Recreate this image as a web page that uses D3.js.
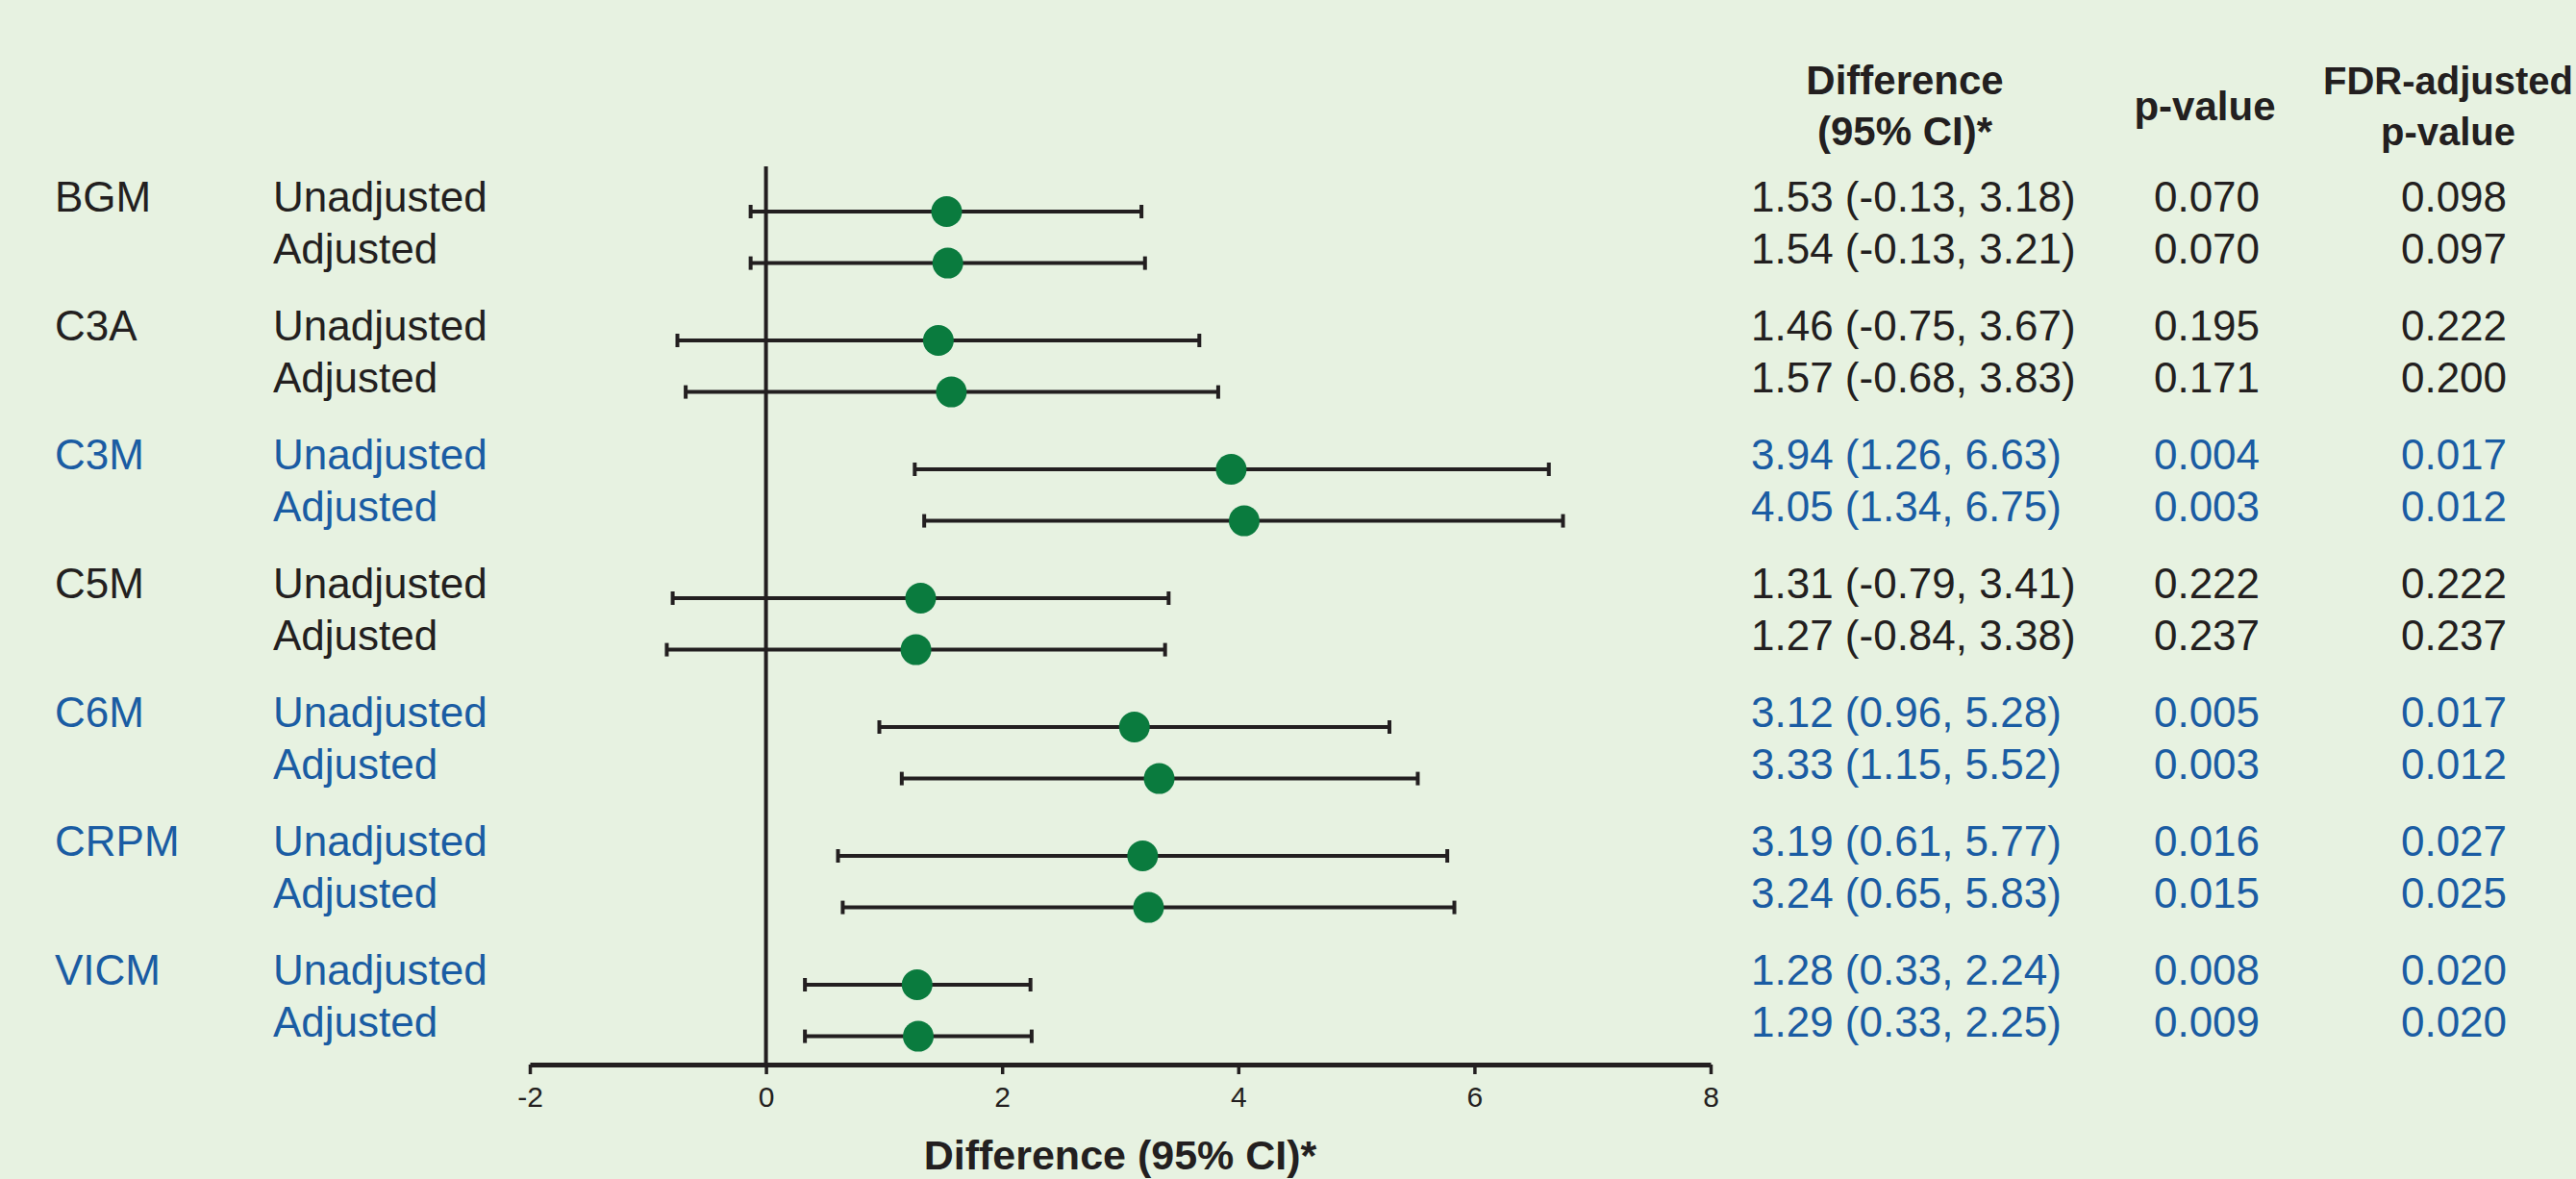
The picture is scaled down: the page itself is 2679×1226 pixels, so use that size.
<!DOCTYPE html>
<html>
<head>
<meta charset="utf-8">
<script src="https://cdn.jsdelivr.net/npm/d3@7"></script>
<style>
  html, body { margin: 0; padding: 0; background: #E7F2E1; }
  svg { display: block; }
  text { font-family: "Liberation Sans", Arial, sans-serif; }
</style>
</head>
<body>
<svg id="chart" width="2679" height="1226"></svg>
<script>
// ---- data ----
const markers = ["BGM", "C3A", "C3M", "C5M", "C6M", "CRPM", "VICM"];
const models = ["Unadjusted", "Adjusted"];
const significant = [false, false, true, false, true, true, true];
// estimates [marker][model]
const estimates = [[1.53, 1.54], [1.46, 1.57], [3.94, 4.05], [1.31, 1.27], [3.12, 3.33], [3.19, 3.24], [1.28, 1.29]];
const lowerCI   = [[-0.13, -0.13], [-0.75, -0.68], [1.26, 1.34], [-0.79, -0.84], [0.96, 1.15], [0.61, 0.65], [0.33, 0.33]];
const upperCI   = [[3.18, 3.21], [3.67, 3.83], [6.63, 6.75], [3.41, 3.38], [5.28, 5.52], [5.77, 5.83], [2.24, 2.25]];
const pValues   = [["0.070", "0.070"], ["0.195", "0.171"], ["0.004", "0.003"], ["0.222", "0.237"], ["0.005", "0.003"], ["0.016", "0.015"], ["0.008", "0.009"]];
const fdrValues = [["0.098", "0.097"], ["0.222", "0.200"], ["0.017", "0.012"], ["0.222", "0.237"], ["0.017", "0.012"], ["0.027", "0.025"], ["0.020", "0.020"]];
const xTicks = [-2, 0, 2, 4, 6, 8];
const axisTitle = "Difference (95% CI)*";
const headerDiff = ["Difference", "(95% CI)*"];
const headerP = ["p-value"];
const headerFdr = ["FDR-adjusted", "p-value"];

// ---- build rows ----
const rows = [];
markers.forEach((m, g) => {
  models.forEach((mod, j) => {
    rows.push({
      marker: m, model: mod, g, j,
      pos: g * 2.5 + j,
      est: estimates[g][j], lo: lowerCI[g][j], hi: upperCI[g][j],
      p: pValues[g][j], fdr: fdrValues[g][j], sig: significant[g]
    });
  });
});

const BLACK = "#231F20", BLUE = "#1A5CA3", GREEN = "#0A7B3E";
const locale = d3.formatLocale({decimal: ".", thousands: ",", grouping: [3], currency: ["", ""], minus: "-"});
const fmt = locale.format(".2f");
const fmtTick = locale.format("d");

const svg = d3.select("#chart");
const x = d3.scaleLinear().domain([-2, 8]).range([551, 1779]);
const y = d3.scaleLinear().domain([0, 1]).range([220, 273.6]);
const axisY = 1107;

// zero reference line
svg.append("line")
  .attr("x1", x(0)).attr("x2", x(0))
  .attr("y1", 173).attr("y2", axisY)
  .attr("stroke", BLACK).attr("stroke-width", 4);

// x axis
const axisG = svg.append("g")
  .attr("transform", `translate(0,${axisY})`)
  .call(d3.axisBottom(x).tickValues(xTicks).tickSize(10).tickSizeOuter(0).tickFormat(fmtTick).tickPadding(13));
axisG.select(".domain").attr("stroke", BLACK).attr("stroke-width", 5);
axisG.selectAll(".tick line").attr("stroke", BLACK).attr("stroke-width", 3.5);
axisG.selectAll(".tick text")
  .attr("fill", BLACK).attr("font-size", 30)
  .style("font-family", "'Liberation Sans', Arial, sans-serif");

svg.append("text")
  .attr("x", (x(-2) + x(8)) / 2).attr("y", 1216)
  .attr("text-anchor", "middle").attr("font-size", 43).attr("font-weight", "bold")
  .attr("fill", BLACK).text(axisTitle);

// error bars
const bars = svg.append("g").selectAll("g").data(rows).join("g");
bars.append("line")
  .attr("x1", d => x(d.lo)).attr("x2", d => x(d.hi))
  .attr("y1", d => y(d.pos)).attr("y2", d => y(d.pos))
  .attr("stroke", BLACK).attr("stroke-width", 4);
bars.append("line")
  .attr("x1", d => x(d.lo)).attr("x2", d => x(d.lo))
  .attr("y1", d => y(d.pos) - 7).attr("y2", d => y(d.pos) + 7)
  .attr("stroke", BLACK).attr("stroke-width", 4);
bars.append("line")
  .attr("x1", d => x(d.hi)).attr("x2", d => x(d.hi))
  .attr("y1", d => y(d.pos) - 7).attr("y2", d => y(d.pos) + 7)
  .attr("stroke", BLACK).attr("stroke-width", 4);
bars.append("circle")
  .attr("cx", d => x(d.est)).attr("cy", d => y(d.pos)).attr("r", 16)
  .attr("fill", GREEN);

// left labels
const fs = 44;
svg.append("g").selectAll("text").data(rows.filter(d => d.j === 0)).join("text")
  .attr("x", 57).attr("y", d => y(d.pos))
  .attr("font-size", fs).attr("fill", d => d.sig ? BLUE : BLACK)
  .text(d => d.marker);
svg.append("g").selectAll("text").data(rows).join("text")
  .attr("x", 284).attr("y", d => y(d.pos))
  .attr("font-size", fs).attr("fill", d => d.sig ? BLUE : BLACK)
  .text(d => d.model);

// right columns
svg.append("g").selectAll("text").data(rows).join("text")
  .attr("x", 1821).attr("y", d => y(d.pos))
  .attr("font-size", fs).attr("fill", d => d.sig ? BLUE : BLACK)
  .text(d => `${fmt(d.est)} (${fmt(d.lo)}, ${fmt(d.hi)})`);
svg.append("g").selectAll("text").data(rows).join("text")
  .attr("x", 2295).attr("y", d => y(d.pos)).attr("text-anchor", "middle")
  .attr("font-size", fs).attr("fill", d => d.sig ? BLUE : BLACK)
  .text(d => d.p);
svg.append("g").selectAll("text").data(rows).join("text")
  .attr("x", 2552).attr("y", d => y(d.pos)).attr("text-anchor", "middle")
  .attr("font-size", fs).attr("fill", d => d.sig ? BLUE : BLACK)
  .text(d => d.fdr);

// headers
function header(lines, cx, y0, size) {
  svg.append("g").selectAll("text").data(lines).join("text")
    .attr("x", cx).attr("y", (d, i) => y0 + i * 53)
    .attr("text-anchor", "middle").attr("font-size", size).attr("font-weight", "bold")
    .attr("fill", BLACK).text(d => d);
}
header(headerDiff, 1981, 98, 42);
header(headerP, 2293, 125, 42);
header(headerFdr, 2546, 98, 40);
</script>
</body>
</html>
